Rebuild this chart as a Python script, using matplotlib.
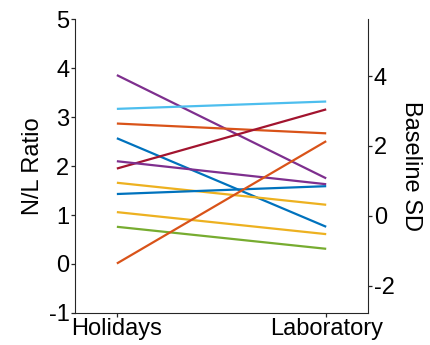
import matplotlib.pyplot as plt

plt.rcParams['font.family'] = ['Liberation Sans', 'DejaVu Sans']
plt.rcParams['axes.unicode_minus'] = False

conditions = ['Holidays', 'Laboratory']
holidays = [3.86, 3.17, 2.87, 2.57, 1.95, 2.10, 1.66, 1.43, 1.06, 0.76, 0.01]
laboratory = [1.75, 3.32, 2.67, 0.76, 3.16, 1.63, 1.21, 1.59, 0.61, 0.31, 2.51]
colors = ['#7E2F8E', '#4DBEEE', '#D95319', '#0072BD', '#A2142F', '#7E2F8E',
          '#EDB120', '#0072BD', '#EDB120', '#77AC30', '#D95319']

fig = plt.figure(figsize=(4.31, 3.45), dpi=100)
ax = fig.add_axes([0.174, 0.093, 0.68, 0.851])

for h, l, c in zip(holidays, laboratory, colors):
    ax.plot([1, 2], [h, l], color=c, lw=1.6, solid_capstyle='butt')

fs = 17
ax.set_xlim(0.8, 2.2)
ax.set_ylim(-1, 5)
ax.set_xticks([1, 2])
ax.set_xticklabels(conditions)
ax.set_yticks(range(-1, 6))
ax.set_ylabel('N/L Ratio', fontsize=fs, labelpad=3)
ax.tick_params(labelsize=fs, width=0.9, length=3, pad=1, color='#262626')
ax.spines['top'].set_visible(False)
ax.spines['right'].set_visible(False)
for s in ['left', 'bottom']:
    ax.spines[s].set_color('#262626')

# right axis
ax2 = ax.twinx()
ax2.set_ylim(-2.77, 5.62)
ax2.set_yticks([-2, 0, 2, 4])
ax2.set_ylabel('Baseline SD', fontsize=fs, rotation=270, labelpad=20)
ax2.tick_params(labelsize=fs, width=0.9, length=3, pad=1, color='#262626')
ax2.spines['top'].set_visible(False)
ax2.spines['left'].set_visible(False)
ax2.spines['bottom'].set_visible(False)
ax2.spines['right'].set_color('#262626')

fig.savefig('out.png', dpi=100)
